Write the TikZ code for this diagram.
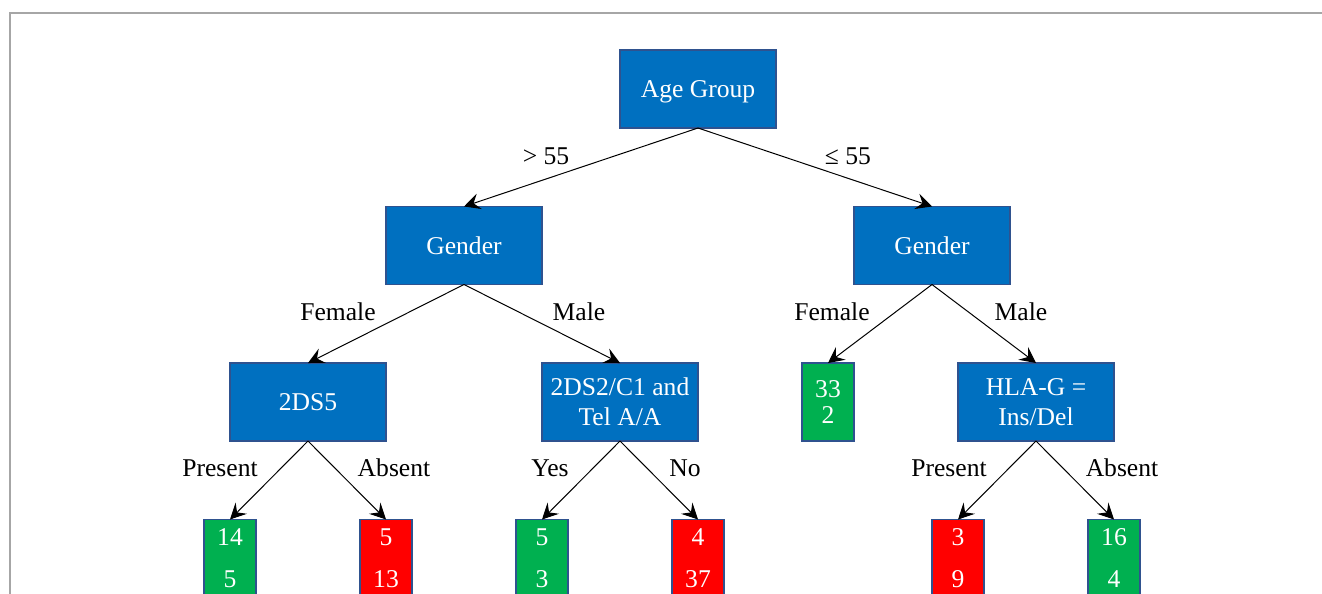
\documentclass[tikz,border=0pt]{standalone}
\usepackage{fontspec}
\setmainfont{Liberation Serif}
\usepackage{xcolor}
\usepackage{tikz}
\usetikzlibrary{arrows.meta,positioning}

\definecolor{splitblue}{HTML}{0070C0}
\definecolor{leafgreen}{HTML}{00B050}
\definecolor{leafred}{HTML}{FF0000}
\definecolor{boxline}{HTML}{2F528F}
\definecolor{framegray}{HTML}{A6A6A6}

\begin{document}
\begin{tikzpicture}[node distance=39.25pt, every node/.style={font=\fontsize{12.8}{15}\selectfont},
  split/.style={draw=boxline, line width=0.75pt, fill=splitblue, text=white, minimum width=78pt, minimum height=39pt, inner sep=0pt, outer sep=0pt, align=center},
  leaf/.style={draw=boxline, line width=0.75pt, text=white, minimum width=26pt, minimum height=39pt, inner sep=0pt, outer sep=0pt, align=center, font=\fontsize{12.8}{21}\selectfont},
  greenleaf/.style={leaf, fill=leafgreen}, redleaf/.style={leaf, fill=leafred},
  link/.style={-{Stealth[length=8pt,width=8pt,inset=3pt]}, line width=0.5pt}]
\clip (0,0) rectangle (661pt,-297pt);
\draw[framegray, line width=1pt] (4.75pt,-297pt) -- (4.75pt,-6.25pt) -- (661pt,-6.25pt);
% splits
\node[split, text depth=0pt] (age) at (349pt,-44.5pt) {Age Group};
\node[split] (gold) [below=of age, xshift=-117pt] {Gender};
\node[split] (gyoung) [below=of age, xshift=117pt] {Gender};
\node[split] (ds5) [below=of gold, xshift=-78pt] {2DS5};
\node[split] (ds2) [below=of gold, xshift=78pt] {2DS2/C1 and\\Tel A/A};
\node[greenleaf, font=\fontsize{12.8}{13}\selectfont] (fy) [below=of gyoung, xshift=-52pt] {33\\2};
\node[split] (hla) [below=of gyoung, xshift=52pt] {HLA-G =\\Ins/Del};
% leaves
\node[greenleaf] (dp) [below=of ds5, xshift=-39pt] {14\\5};
\node[redleaf] (da) [below=of ds5, xshift=39pt] {5\\13};
\node[greenleaf] (ty) [below=of ds2, xshift=-39pt] {5\\3};
\node[redleaf] (tn) [below=of ds2, xshift=39pt] {4\\37};
\node[redleaf] (hp) [below=of hla, xshift=-39pt] {3\\9};
\node[greenleaf] (ha) [below=of hla, xshift=39pt] {16\\4};
% labels
\node (lgt) at (273pt,-78pt) {> 55};
\node (lle) at (424pt,-78pt) {≤ 55};
\node (lf1) at (169pt,-156pt) {Female};
\node (lm1) at (289.5pt,-156pt) {Male};
\node (lf2) at (416pt,-156pt) {Female};
\node (lm2) at (510.5pt,-156pt) {Male};
\node (lp1) at (110pt,-234pt) {Present};
\node (la1) at (197pt,-234pt) {Absent};
\node (ly) at (275pt,-234pt) {Yes};
\node (ln) at (342.5pt,-234pt) {No};
\node (lp2) at (474.5pt,-234pt) {Present};
\node (la2) at (561pt,-234pt) {Absent};
% arrows
\draw[link] (age.south) -- (gold.north); \draw[link] (age.south) -- (gyoung.north);
\draw[link] (gold.south) -- (ds5.north); \draw[link] (gold.south) -- (ds2.north);
\draw[link] (gyoung.south) -- (fy.north); \draw[link] (gyoung.south) -- (hla.north);
\draw[link] (ds5.south) -- (dp.north); \draw[link] (ds5.south) -- (da.north);
\draw[link] (ds2.south) -- (ty.north); \draw[link] (ds2.south) -- (tn.north);
\draw[link] (hla.south) -- (hp.north); \draw[link] (hla.south) -- (ha.north);
\end{tikzpicture}
\end{document}
